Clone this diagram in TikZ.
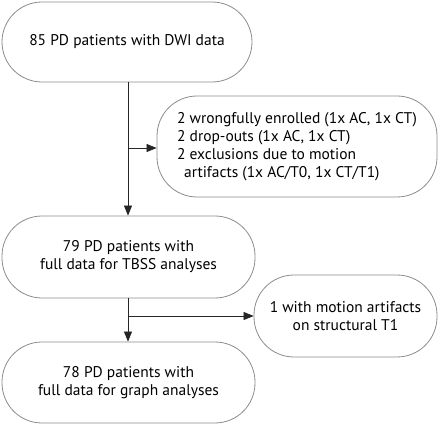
\documentclass[tikz,border=0pt]{standalone}
\usepackage{fontspec}
\setmainfont{PT Sans}
\usetikzlibrary{arrows.meta}
\begin{document}
\begin{tikzpicture}[x=1pt,y=-1pt,
  pill/.style={draw=black!45, line width=0.8pt, rounded corners=40pt, align=center, font=\fontsize{15.5}{18}\selectfont, inner sep=0pt},
  conn/.style={draw=black!85, line width=0.7pt, -{Triangle[length=10pt,width=8pt]}}]
\useasboundingbox (0,0) rectangle (440,425);
\node[pill, minimum width=250pt, minimum height=80pt] (a) at (127,42) {85 PD patients with DWI data};
\node[pill, minimum width=280pt, minimum height=101pt, align=left] (b) at (297,146.5) {2 wrongfully enrolled (1x AC, 1x CT)\\2 drop-outs (1x AC, 1x CT)\\2 exclusions due to motion\\\hspace*{7pt}artifacts (1x AC/T0, 1x CT/T1)};
\node[pill, minimum width=253pt, minimum height=82pt] (c) at (128.5,257) {79 PD patients with\\full data for TBSS analyses};
\node[pill, minimum width=183pt, minimum height=82pt] (d) at (345.5,316) {1 with motion artifacts\\on structural T1};
\node[pill, minimum width=253pt, minimum height=81pt] (e) at (128.5,382.5) {78 PD patients with\\full data for graph analyses};
\coordinate (j1) at (128,148);
\coordinate (j2) at (128,316);
\draw[conn] (a.south -| j1) -- (c.north -| j1);
\draw[conn] (j1) -- (b.west |- j1);
\draw[conn] (c.south -| j2) -- (e.north -| j2);
\draw[conn] (j2) -- (d.west);
\end{tikzpicture}
\end{document}
